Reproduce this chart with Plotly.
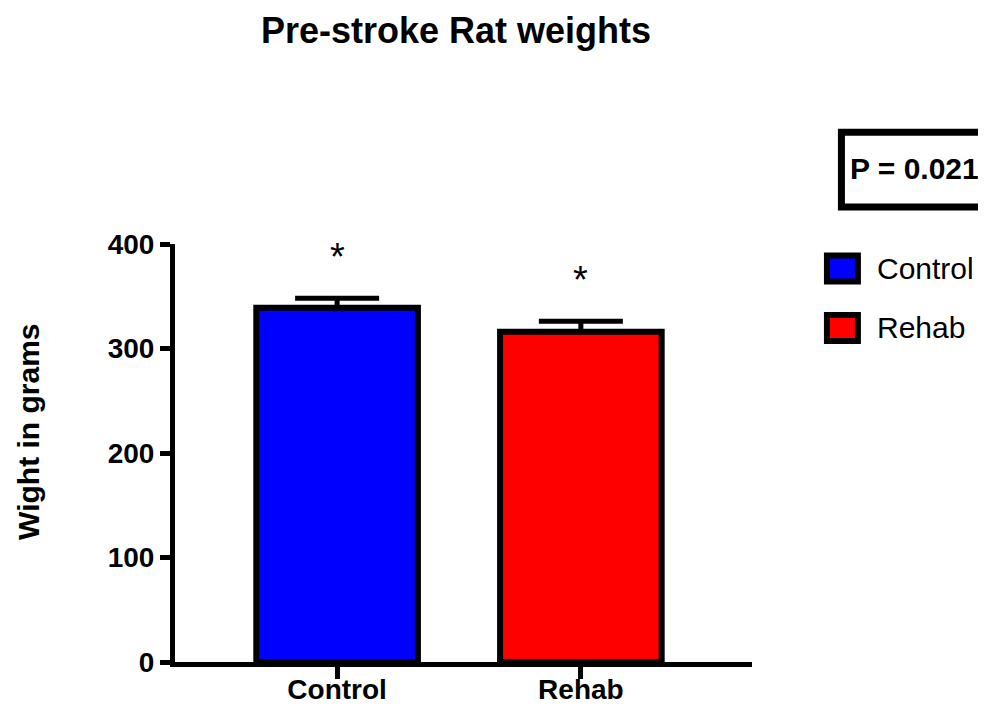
import plotly.graph_objects as go

# ---- data ----
categories = ["Control", "Rehab"]
means = [339, 316]
sem = [9, 10]
bar_colors = ["#0000FF", "#FF0000"]
y_ticks = [0, 100, 200, 300, 400]
title_text = "Pre-stroke Rat weights"
y_title = "Wight in grams"
p_text = "P = 0.021"
sig_marks = ["*", "*"]

OFF = 8  # page body margin
W, H = 986 - OFF, 712 - OFF
# plot-area edges in screen pixels
SX0, SX1, SY0, SY1 = 174.5, 752, 243.5, 662
L, R, T, B = SX0 - OFF, W - (SX1 - OFF), SY0 - OFF, H - (SY1 - OFF)
FONT = "Liberation Sans, Arial, sans-serif"


def px(x):
    return (x - SX0) / (SX1 - SX0)


def py(y):
    return (SY1 - y) / (SY1 - SY0)


fig = go.Figure()
for i, cat in enumerate(categories):
    fig.add_trace(go.Bar(
        x=[cat], y=[means[i]], name=cat, width=0.663,
        marker=dict(color=bar_colors[i], line=dict(color="black", width=6)),
        error_y=dict(type="data", symmetric=False, array=[sem[i]], arrayminus=[0],
                     thickness=5, width=42, color="black"),
        showlegend=False,
    ))
    fig.add_annotation(x=cat, y=means[i] + sem[i], text=sig_marks[i], showarrow=False,
                       yanchor="bottom", yshift=18,
                       font=dict(family=FONT, size=38, color="black"))

shapes = []
annotations = []
# legend (custom, larger swatches)
leg_y = [268, 327.5]
for i, cat in enumerate(categories):
    shapes.append(dict(type="rect", xref="paper", yref="paper",
                       x0=px(827), x1=px(858), y0=py(leg_y[i] + 13), y1=py(leg_y[i] - 13),
                       fillcolor=bar_colors[i], line=dict(color="black", width=6)))
    annotations.append(dict(xref="paper", yref="paper", x=px(875), y=py(leg_y[i]),
                            xanchor="left", yanchor="middle", text=cat, showarrow=False,
                            font=dict(family=FONT, size=30, color="black")))
# p-value box
shapes.append(dict(type="rect", xref="paper", yref="paper",
                   x0=px(841.5), x1=px(1000), y0=py(206.5), y1=py(131.5),
                   fillcolor="rgba(0,0,0,0)", line=dict(color="black", width=7)))
annotations.append(dict(xref="paper", yref="paper", x=px(848), y=py(168),
                        xanchor="left", yanchor="middle", text=p_text, showarrow=False,
                        font=dict(family=FONT, size=30, color="black", weight="bold")))
# y axis title
annotations.append(dict(xref="paper", yref="paper", x=px(28), y=py(432),
                        xanchor="center", yanchor="middle", text=y_title, textangle=-90,
                        showarrow=False,
                        font=dict(family=FONT, size=30, color="black", weight="bold")))

for a in annotations:
    fig.add_annotation(**a)

fig.update_layout(
    template="none",
    width=W, height=H,
    margin=dict(l=L, r=R, t=T, b=B, pad=0, autoexpand=False),
    paper_bgcolor="white", plot_bgcolor="white",
    title=dict(text=title_text, x=(456 - OFF) / W, y=1 - (30 - OFF) / H,
               xref="container", yref="container", xanchor="center", yanchor="middle",
               font=dict(family=FONT, size=36, color="black", weight="bold")),
    shapes=shapes,
    showlegend=False,
    xaxis=dict(range=[-0.665, 1.702], showgrid=False, zeroline=False, automargin=False,
               showline=True, linecolor="black", linewidth=5,
               ticks="outside", ticklen=12, tickwidth=5, tickcolor="black",
               ticklabelstandoff=-14,
               tickfont=dict(family=FONT, size=28, color="black", weight="bold")),
    yaxis=dict(range=[0, 400], tickvals=y_ticks, showgrid=False, zeroline=False, automargin=False,
               showline=True, linecolor="black", linewidth=5,
               ticks="outside", ticklen=10, tickwidth=5, tickcolor="black",
               tickfont=dict(family=FONT, size=28, color="black", weight="bold")),
)

fig.write_html("out.html")
